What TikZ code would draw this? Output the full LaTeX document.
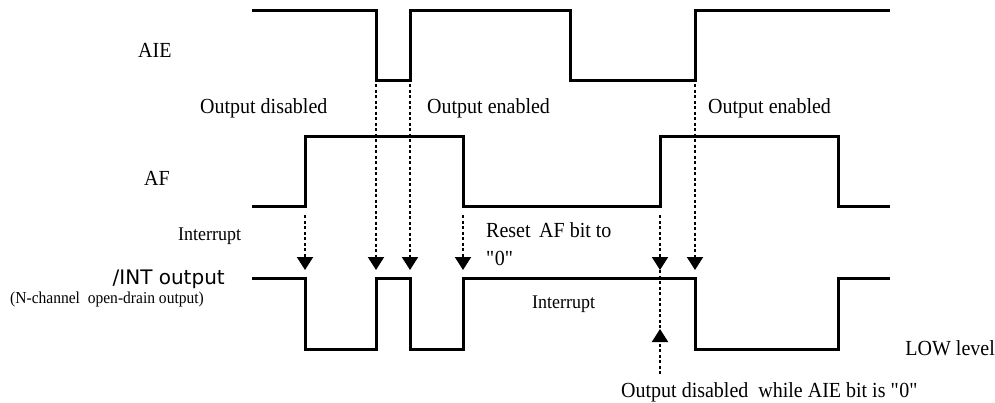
\documentclass[tikz,border=0pt]{standalone}
\usepackage{fontspec}
\setmainfont[FakeStretch=0.93]{Liberation Serif}
\newfontfamily\intfont{DejaVu Sans}
\usetikzlibrary{arrows.meta}
\begin{document}
\begin{tikzpicture}[x=1pt,y=-1pt,
  wave/.style={line width=3pt,line join=miter},
  dotline/.style={line width=2pt,dash pattern=on 3pt off 2.5pt},
  darrow/.style={dotline,-{Triangle[width=16pt,length=13pt]}},
  lbl/.style={inner sep=0pt,font=\fontsize{21.5}{25}\selectfont},
  slbl/.style={inner sep=0pt,font=\fontsize{19.3}{23}\selectfont}]
\useasboundingbox (0,0) rectangle (995,402);
% AIE
\draw[wave] (252,10) -- (376,10) -- (376,80) -- (410,80) -- (410,10) -- (570,10) -- (570,80) -- (695,80) -- (695,10) -- (890,10);
% AF
\draw[wave] (252,206) -- (305,206) -- (305,136) -- (463,136) -- (463,206) -- (660,206) -- (660,136) -- (838,136) -- (838,206) -- (890,206);
% /INT
\draw[wave] (252,278) -- (305,278) -- (305,349) -- (376,349) -- (376,278) -- (410,278) -- (410,349) -- (463,349) -- (463,278) -- (695,278) -- (695,349) -- (838,349) -- (838,278) -- (890,278);
% dotted arrows
\coordinate (s1) at (305,215); \coordinate (t1) at (305,270);
\coordinate (s2) at (376,84);  \coordinate (t2) at (376,270);
\coordinate (s3) at (410,84);  \coordinate (t3) at (410,270);
\coordinate (s4) at (463,215); \coordinate (t4) at (463,270);
\coordinate (s5) at (660,215); \coordinate (t5) at (660,270);
\coordinate (s6) at (695,84);  \coordinate (t6) at (695,270);
\foreach \i in {1,...,6} \draw[darrow] (s\i) -- (t\i);
\coordinate (m1) at (660,270); \coordinate (m2) at (660,329);
\coordinate (u0) at (660,374);
\draw[dotline] (m1) -- (m2);
\draw[darrow] (u0) -- (m2);
% labels
\node[lbl,anchor=base west] (laie) at (138,57) {AIE};
\node[lbl,anchor=base west] (lod) at (200,113) {Output disabled};
\node[lbl,anchor=base west] (loe1) at (427,113) {Output enabled};
\node[lbl,anchor=base west] (loe2) at (708,113) {Output enabled};
\node[lbl,anchor=base west] (laf) at (144,185) {AF};
\node[slbl,anchor=base west] (lint1) at (178,240) {Interrupt};
\node[lbl,anchor=base west] (lreset) at (486,237) {Reset\, AF bit to};
\node[lbl,anchor=base west] (lzero) at (486,265) {\textquotedbl 0\textquotedbl};
\node[inner sep=0pt,anchor=base east,font=\intfont\fontsize{20}{24}\selectfont] (lintout) at (225,284) {/INT output};
\node[inner sep=0pt,anchor=base west,font=\fontsize{16.7}{19}\selectfont] (lnch) at (10,303) {(N-channel\ \ open-drain output)};
\node[slbl,anchor=base west] (lint2) at (532,308) {Interrupt};
\node[lbl,anchor=base east] (llow) at (995,355) {LOW level};
\node[lbl,anchor=base west] (lbot) at (621,397) {Output disabled\ \ while AIE bit is \textquotedbl 0\textquotedbl};
\end{tikzpicture}
\end{document}
